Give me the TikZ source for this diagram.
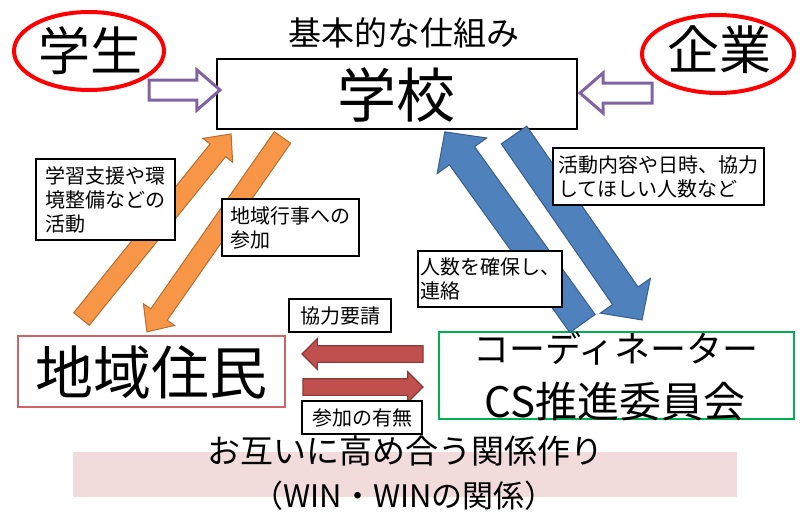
\documentclass[tikz,border=0pt]{standalone}
\usepackage{fontspec}
\setmainfont{Noto Sans CJK JP}
\usetikzlibrary{shapes.arrows}
\definecolor{orangeA}{HTML}{F79646}
\definecolor{orangeB}{HTML}{B66D31}
\definecolor{blueA}{HTML}{4F81BD}
\definecolor{blueB}{HTML}{385D8A}
\definecolor{redA}{HTML}{C0504D}
\definecolor{redB}{HTML}{8C3836}
\definecolor{purpleA}{HTML}{8064A2}
\definecolor{greenA}{HTML}{00B050}
\definecolor{pinkA}{HTML}{F2DCDB}
\definecolor{boxred}{HTML}{D06464}
\begin{document}
\begin{tikzpicture}[x=1pt,y=-1pt,
  fs/.style={font=\fontsize{#1}{#1}\selectfont},
  blk/.style={single arrow, inner xsep=0pt, outer sep=0pt, anchor=tail, single arrow head indent=0pt},
  orangearrow/.style={blk, fill=orangeA, draw=orangeB, line width=1pt, inner ysep=9.5pt, single arrow head extend=9pt, single arrow tip angle=84},
  bluearrow/.style={blk, fill=blueA, draw=blueB, line width=1pt, inner ysep=15pt, single arrow head extend=15pt, single arrow tip angle=92},
  redarrow/.style={blk, fill=redA, draw=redB, line width=1.2pt, inner ysep=7.75pt, single arrow head extend=7pt, single arrow tip angle=90},
  purplearrow/.style={blk, fill=white, draw=purpleA, line width=3pt, inner ysep=8.5pt, single arrow head extend=10pt, single arrow tip angle=82},
  note/.style={draw=black, line width=1.5pt, fill=white, align=left, inner sep=0pt, font=\fontsize{20}{24}\selectfont},
]
\useasboundingbox (0,0) rectangle (802,514);

% ellipses
\draw[red, line width=4pt] (89,51) ellipse [x radius=75, y radius=39];
\draw[red, line width=4pt] (718,54) ellipse [x radius=76, y radius=39];
\node[fs=52, inner sep=0pt] (gakusei) at (90,51) {学生};
\node[fs=52, inner sep=0pt] (kigyo) at (719,50) {企業};

% title
\node[fs=33, inner sep=0pt] (title) at (404,33) {基本的な仕組み};

% school
\node[draw=black, line width=2pt, minimum width=360pt, minimum height=70pt, inner sep=0pt] (school) at (397,94) {};
\node[fs=59, inner sep=0pt] (schooltxt) at (396,95) {学校};

% residents
\node[draw=boxred, line width=2pt, minimum width=267pt, minimum height=71pt, inner sep=0pt] (residents) at (151.5,371.5) {};
\node[fs=58, inner sep=0pt] (residentstxt) at (151.5,372.5) {地域住民};

% coordinator
\node[draw=greenA, line width=2pt, minimum width=355pt, minimum height=87pt, inner sep=0pt] (coord) at (616.5,375.5) {};
\node[fs=36, inner sep=0pt] (coordtxt1) at (616,349) {コーディネーター};
\node[fs=42, inner sep=0pt] (coordtxt2) at (615,402) {CS推進委員会};

% tails of arrows
\coordinate (oa1t) at (81.5,319);
\coordinate (oa2t) at (282.5,137.5);
\coordinate (ba1t) at (582.5,323.5);
\coordinate (ba2t) at (514,135);
\coordinate (ra1t) at (423,354);
\coordinate (ra2t) at (303,387);
\coordinate (pa1t) at (149,90);
\coordinate (pa2t) at (652,93);

% arrows
\node[orangearrow, rotate=51.05, minimum height=238pt] (oa1) at (oa1t) {};
\node[orangearrow, rotate=-124.9, minimum height=237pt] (oa2) at (oa2t) {};
\node[bluearrow, rotate=125.7, minimum height=236pt] (ba1) at (ba1t) {};
\node[bluearrow, rotate=-55.3, minimum height=225pt] (ba2) at (ba2t) {};
\node[redarrow, rotate=180, minimum height=121pt] (ra1) at (ra1t) {};
\node[redarrow, rotate=0, minimum height=120pt] (ra2) at (ra2t) {};
\node[purplearrow, rotate=0, minimum height=71pt] (pa1) at (pa1t) {};
\node[purplearrow, rotate=180, minimum height=72pt] (pa2) at (pa2t) {};

% notes
\node[note, minimum width=139pt, minimum height=81pt] (n1) at (105.5,199.5) {学習支援や環\\境整備などの\\活動};
\node[note, minimum width=137pt, minimum height=57pt] (n2) at (290.5,227.5) {地域行事への\\参加};
\node[note, minimum width=102pt, minimum height=33pt] (n3) at (340,315.5) {協力要請};
\node[note, minimum width=211pt, minimum height=57pt] (n4) at (658.5,176.5) {活動内容や日時、協力\\してほしい人数など};
\node[note, minimum width=144pt, minimum height=56pt] (n5) at (490,279) {人数を確保し、\\連絡};
\node[note, minimum width=120pt, minimum height=33pt] (n6) at (362,417.5) {参加の有無};

% bottom band
\node[fill=pinkA, minimum width=664pt, minimum height=45pt, inner sep=0pt] (band) at (405,474.5) {};
\node[fs=33, inner sep=0pt] (band1) at (405,451) {お互いに高め合う関係作り};
\node[fs=31, inner sep=0pt] (band2) at (404,496) {（WIN・WINの関係）};
\end{tikzpicture}
\end{document}
